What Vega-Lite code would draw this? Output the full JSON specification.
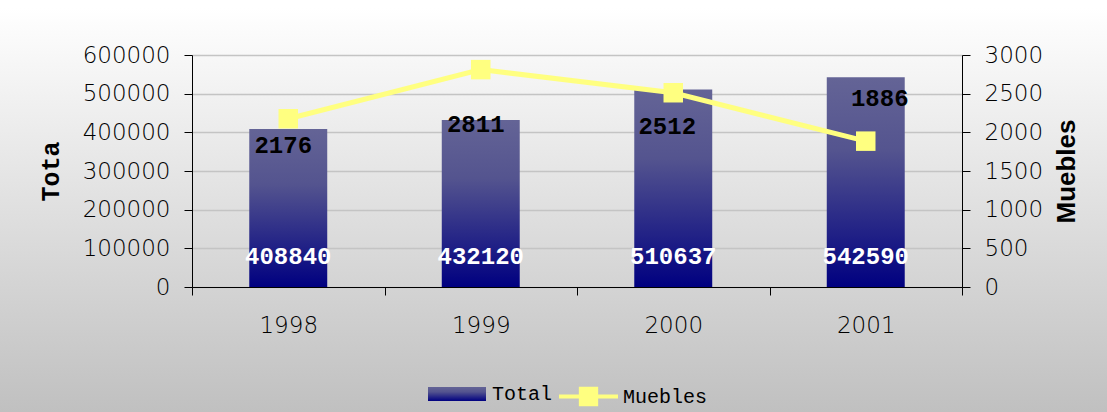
{
  "$schema": "https://vega.github.io/schema/vega-lite/v6.json",
  "width": 770,
  "height": 232,
  "autosize": {"type": "none"},
  "padding": {"left": 192, "top": 55, "right": 145, "bottom": 125},
  "background": "#ffffff",
  "config": {
    "view": {
      "fill": {"gradient": "linear", "x1": 0, "y1": -0.203, "x2": 0, "y2": 1.539, "stops": [{"offset": 0, "color": "#ffffff"}, {"offset": 1, "color": "#c0c0c0"}]},
      "stroke": {"gradient": "linear", "x1": 0, "y1": -0.203, "x2": 0, "y2": 1.539, "stops": [{"offset": 0, "color": "#ffffff"}, {"offset": 1, "color": "#c0c0c0"}]},
      "strokeWidth": 1400
    },
    "axis": {
      "labelFont": "DejaVu Sans",
      "labelFontSize": 23,
      "labelFontWeight": 300,
      "labelColor": "#000000",
      "domainColor": "#000000",
      "domainWidth": 1,
      "tickColor": "#000000",
      "tickWidth": 1,
      "tickSize": 8,
      "gridColor": "#c4c4c4",
      "gridWidth": 1.5,
      "labelOverlap": false
    },
    "legend": {
      "labelFont": "Liberation Mono",
      "labelFontSize": 20,
      "labelColor": "#000000",
      "padding": 0,
      "title": null
    }
  },
  "data": {
    "values": [
      {"Year": "1998", "Total": 408840, "Muebles": 2176},
      {"Year": "1999", "Total": 432120, "Muebles": 2811},
      {"Year": "2000", "Total": 510637, "Muebles": 2512},
      {"Year": "2001", "Total": 542590, "Muebles": 1886}
    ]
  },
  "encoding": {
    "x": {
      "field": "Year",
      "type": "nominal",
      "scale": {"paddingInner": 0, "paddingOuter": 0},
      "axis": {
        "title": null,
        "labelAngle": 0,
        "tickBand": "extent",
        "labelPadding": 19,
        "encode": {"ticks": {"update": {"y": {"value": -8}}}}
      }
    }
  },
  "layer": [
    {
      "encoding": {
        "y": {
          "field": "Total",
          "type": "quantitative",
          "scale": {"domain": [0, 600000]},
          "axis": {
            "title": "Tota",
            "values": [0, 100000, 200000, 300000, 400000, 500000, 600000],
            "format": "d",
            "grid": true,
            "labelPadding": 14,
            "titleFont": "Liberation Mono",
            "titleFontSize": 25,
            "titleFontWeight": "bold",
            "titleColor": "#000000",
            "titlePadding": 19,
            "encode": {"ticks": {"update": {"x": {"value": 8}}}}
          }
        }
      },
      "layer": [
        {
          "mark": {"type": "bar", "width": {"band": 0.405}, "fill": {"gradient": "linear", "x1": 0, "y1": 0, "x2": 0, "y2": 1, "stops": [{"offset": 0, "color": "#646496"}, {"offset": 0.35, "color": "#54548f"}, {"offset": 1, "color": "#000080"}]}},
          "encoding": {
            "opacity": {
              "datum": "Total",
              "type": "ordinal",
              "scale": {"range": [1]},
              "legend": {
                "orient": "none",
                "legendX": 236,
                "legendY": 310,
                "symbolType": "M-1,-0.2414H1V0.2414H-1Z",
                "symbolSize": 3364,
                "symbolStrokeWidth": 0,
                "labelOffset": 6,
                "encode": {"symbols": {"update": {"fill": {"value": {"gradient": "linear", "x1": 0, "y1": 0, "x2": 0, "y2": 1, "stops": [{"offset": 0, "color": "#646496"}, {"offset": 0.35, "color": "#54548f"}, {"offset": 1, "color": "#000080"}]}}, "opacity": {"value": 1}}}}
              }
            }
          }
        },
        {
          "mark": {"type": "text", "font": "Liberation Mono", "fontWeight": "bold", "fontSize": 24, "color": "#ffffff", "baseline": "middle", "dy": -30},
          "encoding": {
            "y": {"datum": 0, "type": "quantitative"},
            "text": {"field": "Total", "type": "quantitative", "format": "d"}
          }
        }
      ]
    },
    {
      "encoding": {
        "y": {
          "field": "Muebles",
          "type": "quantitative",
          "scale": {"domain": [0, 3000]},
          "axis": {
            "orient": "right",
            "title": "Muebles",
            "values": [0, 500, 1000, 1500, 2000, 2500, 3000],
            "format": "d",
            "grid": false,
            "labelPadding": 14,
            "titleFont": "Liberation Sans",
            "titleFontSize": 26,
            "titleFontWeight": "bold",
            "titleColor": "#000000",
            "titleAngle": 270,
            "titleBaseline": "top",
            "titlePadding": 11,
            "encode": {"ticks": {"update": {"x": {"value": -8}}}}
          }
        }
      },
      "layer": [
        {
          "mark": {"type": "line", "strokeWidth": 5},
          "encoding": {
            "stroke": {
              "datum": "Muebles",
              "type": "nominal",
              "scale": {"range": ["#ffff80"]},
              "legend": {
                "orient": "none",
                "legendX": 365,
                "legendY": 310,
                "symbolType": "M-1,0H1M-0.26,-0.26H0.26V0.26H-0.26Z",
                "symbolSize": 3481,
                "symbolStrokeWidth": 4,
                "symbolFillColor": "#ffff80",
                "labelOffset": 3,
                "encode": {"symbols": {"update": {"fill": {"value": "#ffff80"}, "stroke": {"value": "#ffff80"}}}}
              }
            }
          }
        },
        {
          "mark": {"type": "point", "shape": "square", "filled": true, "size": 380, "color": "#ffff80", "opacity": 1}
        },
        {
          "transform": [{"filter": "datum.Year == '1998'"}],
          "mark": {"type": "text", "font": "Liberation Mono", "fontWeight": "bold", "fontSize": 24, "color": "#000000", "baseline": "middle", "dy": 27, "dx": -5},
          "encoding": {"text": {"field": "Muebles", "type": "quantitative", "format": "d"}}
        },
        {
          "transform": [{"filter": "datum.Year == '1999'"}],
          "mark": {"type": "text", "font": "Liberation Mono", "fontWeight": "bold", "fontSize": 24, "color": "#000000", "baseline": "middle", "dy": 55, "dx": -5},
          "encoding": {"text": {"field": "Muebles", "type": "quantitative", "format": "d"}}
        },
        {
          "transform": [{"filter": "datum.Year == '2000'"}],
          "mark": {"type": "text", "font": "Liberation Mono", "fontWeight": "bold", "fontSize": 24, "color": "#000000", "baseline": "middle", "dy": 34, "dx": -6},
          "encoding": {"text": {"field": "Muebles", "type": "quantitative", "format": "d"}}
        },
        {
          "transform": [{"filter": "datum.Year == '2001'"}],
          "mark": {"type": "text", "font": "Liberation Mono", "fontWeight": "bold", "fontSize": 24, "color": "#000000", "baseline": "middle", "dy": -42, "dx": 14},
          "encoding": {"text": {"field": "Muebles", "type": "quantitative", "format": "d"}}
        }
      ]
    }
  ],
  "resolve": {"scale": {"y": "independent"}}
}
